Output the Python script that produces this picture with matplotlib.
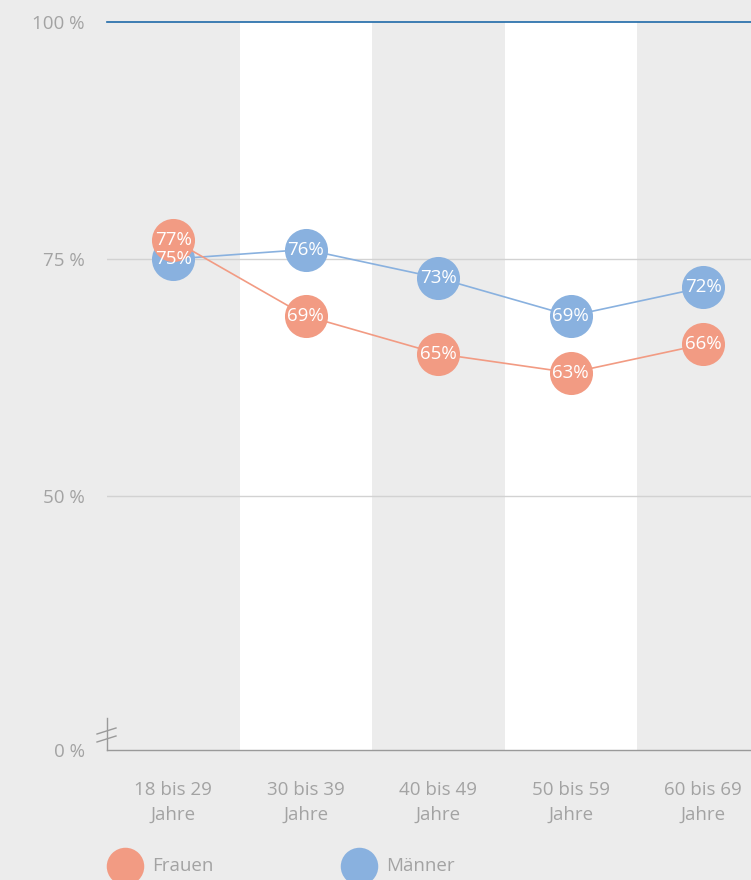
import matplotlib
matplotlib.use('Agg')
import matplotlib.pyplot as plt
from matplotlib.lines import Line2D

plt.rcParams['font.family'] = ['Open Sans', 'DejaVu Sans']

# Anteile je Altersgruppe (in Prozent)
groups = ['18 bis 29\nJahre', '30 bis 39\nJahre', '40 bis 49\nJahre',
          '50 bis 59\nJahre', '60 bis 69\nJahre']
frauen = [77, 69, 65, 63, 66]
maenner = [75, 76, 73, 69, 72]
ytick_vals = [100, 75, 50]
ytick_labels = ['100 %', '75 %', '50 %']
y_floor = 23.2   # unterer Rand der gebrochenen Achse, beschriftet mit 0 %

c_frauen = '#f29b83'
c_maenner = '#89b1df'
bg = '#ececec'
grey_txt = '#a3a3a3'

fig = plt.figure(figsize=(7.51, 8.80), dpi=100, facecolor=bg)
ax = fig.add_axes([107/751, 1 - 750/880, 644/751, (750 - 22)/880])
ax.set_facecolor(bg)

x = list(range(len(groups)))
ax.set_xlim(-0.5, 4.36)
ax.set_ylim(y_floor, 100)

# jede zweite Spalte weiß hinterlegen
for i in x:
    if i % 2 == 1:
        ax.axvspan(i - 0.5, i + 0.5, color='white', lw=0, zorder=0)

for v in [75, 50]:
    ax.axhline(v, color='#d2d2d2', lw=1.0, zorder=1)
ax.axhline(100, color='#1f6aa8', lw=1.2, zorder=2, clip_on=False)

ax.plot(x, maenner, color=c_maenner, lw=1.2, marker='o', ms=31,
        mec='none', zorder=3)
ax.plot(x, frauen, color=c_frauen, lw=1.2, marker='o', ms=31,
        mec='none', zorder=4)
for xi, v in zip(x, maenner):
    ax.text(xi, v, f'{v}%', color='white', fontsize=13.5, ha='center',
            va='center', zorder=5)
for xi, v in zip(x, frauen):
    ax.text(xi, v, f'{v}%', color='white', fontsize=13.5, ha='center',
            va='center', zorder=6)

for s in ['top', 'right', 'left']:
    ax.spines[s].set_visible(False)
ax.spines['bottom'].set_color('#9a9a9a')
ax.spines['bottom'].set_linewidth(1.0)

ax.set_yticks(ytick_vals + [y_floor])
ax.set_yticklabels(ytick_labels + ['0 %'])
ax.set_xticks(x)
ax.set_xticklabels(groups, linespacing=1.5)
ax.tick_params(length=0, colors=grey_txt, labelsize=13.5)
ax.tick_params(axis='y', pad=16)
ax.tick_params(axis='x', pad=22)

# Achsenbruch unten links
trans = fig.transFigure
W, H = 751, 880
fig.add_artist(Line2D([107/W, 107/W], [1 - 718/H, 1 - 750/H],
                      transform=trans, color='#9a9a9a', lw=1.0))
for yy in [731, 739]:
    fig.add_artist(Line2D([97/W, 116/W], [1 - (yy + 3)/H, 1 - (yy - 3)/H],
                          transform=trans, color='#9a9a9a', lw=1.0))

# Legende
for cx, tx, col, name in [(125, 152, c_frauen, 'Frauen'),
                          (359, 386, c_maenner, 'Männer')]:
    fig.add_artist(Line2D([cx/W], [1 - 866/H], transform=trans, marker='o',
                          ms=27, color=col, mec='none', ls='none'))
    fig.text(tx/W, 1 - 866/H, name, color=grey_txt, fontsize=13.5,
             va='center', ha='left')

fig.savefig('out.png', dpi=100, facecolor=bg)
